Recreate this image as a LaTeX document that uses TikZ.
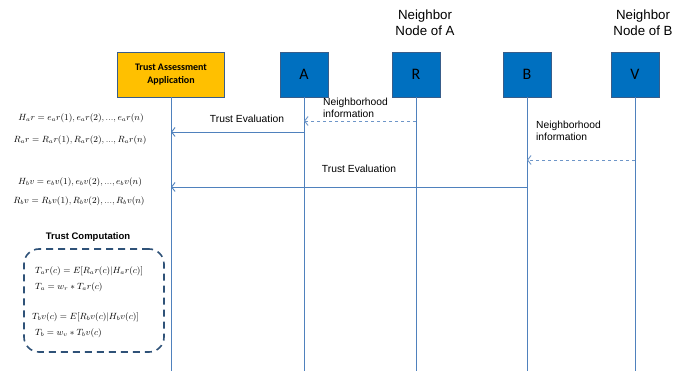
\documentclass[tikz,border=0pt]{standalone}
\usepackage{fontspec}
\setmainfont{Liberation Sans}
\newfontfamily\calibri{Carlito}
\usetikzlibrary{arrows.meta}

\definecolor{boxblue}{RGB}{0,112,192}
\definecolor{boxedge}{RGB}{56,93,138}
\definecolor{appyellow}{RGB}{255,192,0}
\definecolor{lifecol}{RGB}{79,129,189}
\definecolor{dashcol}{RGB}{110,150,200}
\definecolor{groupcol}{RGB}{47,82,120}

\begin{document}
\begin{tikzpicture}[x=1pt,y=-1pt,
  actor/.style={draw=boxedge, fill=boxblue, line width=0.9pt,
    minimum width=48pt, minimum height=45pt, inner sep=0pt,
    font=\calibri\fontsize{16}{18}\selectfont},
  app/.style={draw=boxedge, fill=appyellow, line width=0.9pt,
    minimum width=107pt, minimum height=45pt, inner sep=0pt, align=center,
    font=\calibri\bfseries\fontsize{10}{13}\selectfont},
  lifeline/.style={draw=lifecol, line width=0.8pt},
  msg/.style={draw=lifecol, line width=0.9pt,
    -{Straight Barb[length=3.5pt,width=9pt]}},
  info/.style={draw=dashcol, line width=0.9pt, dash pattern=on 3.5pt off 2.5pt,
    -{Straight Barb[length=3.5pt,width=9pt]}},
  lbl/.style={font=\fontsize{10.3}{12}\selectfont, align=left, inner sep=0pt},
  head/.style={font=\fontsize{13.3}{16}\selectfont, align=center, inner sep=0pt},
  eq/.style={font=\fontsize{9}{11}\selectfont, inner sep=0pt},
  group/.style={draw=groupcol, line width=1.6pt, dash pattern=on 7pt off 5pt,
    rounded corners=15pt, minimum width=140pt, minimum height=103pt, inner sep=0pt}
]
\useasboundingbox (0,0) rectangle (686,371);

% participants
\node[app]   (T) at (171,74.5) {Trust Assessment\\Application};
\node[actor] (A) at (304,74.5) {A};
\node[actor] (R) at (416,74.5) {R};
\node[actor] (B) at (527,74.5) {B};
\node[actor] (V) at (635,74.5) {V};

\node[head] (hR) at (425,23) {Neighbor\\Node of A};
\node[head] (hV) at (643,23) {Neighbor\\Node of B};

% lifelines
\coordinate (bottom) at (0,371);
\foreach \p in {T,A,R,B,V}
  \draw[lifeline] (\p.south) -- (\p.south |- bottom);

% message rows
\coordinate (y1) at (0,121);
\coordinate (y2) at (0,132);
\coordinate (y3) at (0,160);
\coordinate (y4) at (0,187);

\draw[info] (R |- y1) -- (A |- y1);
\draw[msg]  (A |- y2) -- (T |- y2);
\draw[info] (V |- y3) -- (B |- y3);
\draw[msg]  (B |- y4) -- (T |- y4);

\node[lbl] (te1) at (247,119) {Trust Evaluation};
\node[lbl, anchor=west] (ni1) at (323,108) {Neighborhood\\information};
\node[lbl, anchor=west] (ni2) at (536,131) {Neighborhood\\information};
\node[lbl] (te2) at (359,169) {Trust Evaluation};

% observation sets
\node[eq] (ha) at (81,118) {$H_ar = e_ar(1), e_ar(2), ..., e_ar(n)$};
\node[eq] (ra) at (80,140) {$R_ar = R_ar(1), R_ar(2), ..., R_ar(n)$};
\node[eq] (hb) at (80,182) {$H_bv = e_bv(1), e_bv(2), ..., e_bv(n)$};
\node[eq] (rb) at (79,201) {$R_bv = R_bv(1), R_bv(2), ..., R_bv(n)$};

% trust computation group
\node[font=\bfseries\fontsize{9.5}{12}\selectfont, inner sep=0pt] (tct) at (88,237) {Trust Computation};
\node[group] (tc) at (94,300.5) {};
\node[eq, anchor=west] (e1) at (35,271) {$T_ar(c) = E[R_ar(c)|H_ar(c)]$};
\node[eq, anchor=west] (e2) at (35,287) {$T_a = w_r * T_ar(c)$};
\node[eq, anchor=west] (e3) at (32,317) {$T_bv(c) = E[R_bv(c)|H_bv(c)]$};
\node[eq, anchor=west] (e4) at (35,333) {$T_b = w_v * T_bv(c)$};
\end{tikzpicture}
\end{document}
